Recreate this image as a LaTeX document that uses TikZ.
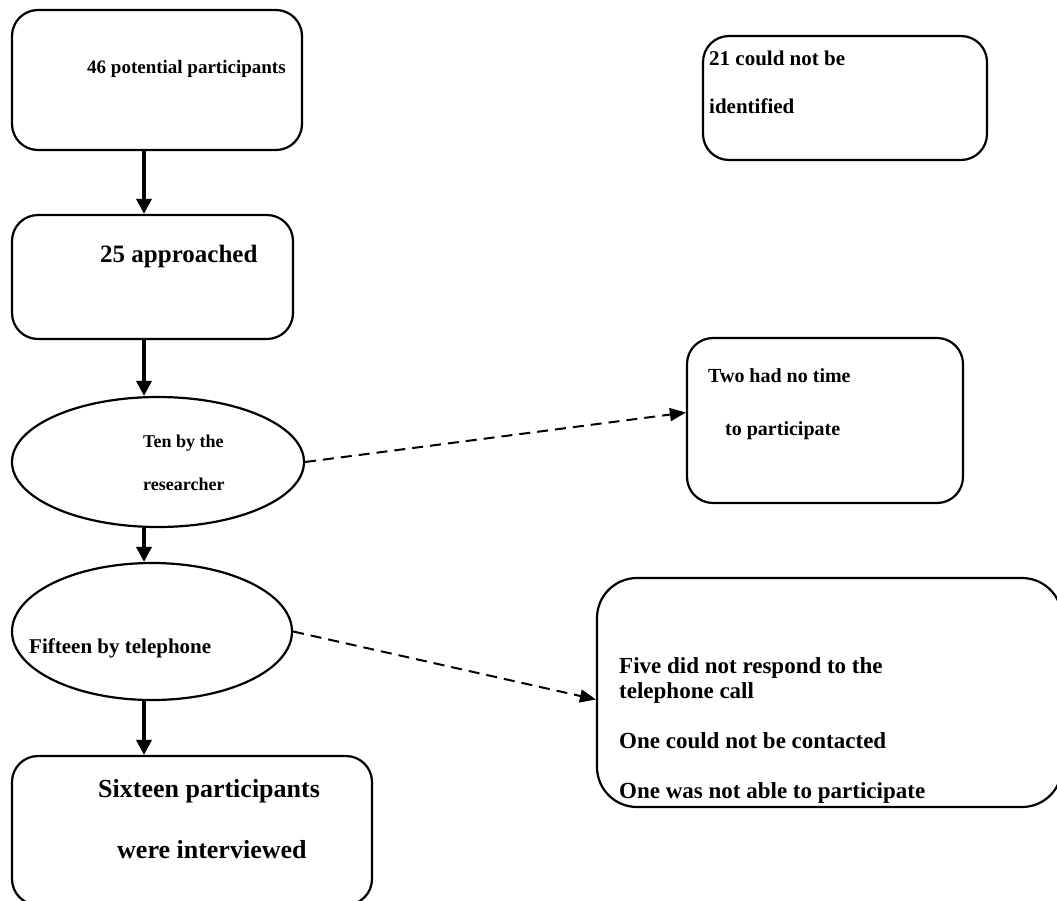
\documentclass[tikz,border=0pt]{standalone}
\usepackage{fontspec}
\setmainfont{Liberation Serif}
\usetikzlibrary{shapes,arrows.meta,positioning,calc}

\begin{document}
\begin{tikzpicture}[
    x=1pt, y=-1pt,
    box/.style={rectangle, draw=black, line width=2.2pt, rounded corners=26pt, inner sep=0pt},
    oval/.style={ellipse, draw=black, line width=2.2pt, inner sep=0pt},
    txt/.style={anchor=base west, inner sep=0pt, font=\fontsize{20}{24}\selectfont\bfseries},
    arrow/.style={-{Triangle[length=15pt,width=15pt]}, line width=3.5pt},
    skip/.style={-{Triangle[length=16pt,width=13pt]}, line width=2pt, dash pattern=on 11pt off 7pt}
]
    \useasboundingbox (0,0) rectangle (1057,900);
    \clip (0,0) rectangle (1057,900);

    % Left column
    \node[box, minimum width=290pt, minimum height=140pt] (potential) at (157,80) {};
    \node[box, minimum width=281pt, minimum height=124pt] (approached) at (152.5,277) {};
    \node[oval, minimum width=292pt, minimum height=130pt] (ten) at (158,462) {};
    \node[oval, minimum width=280pt, minimum height=137pt] (fifteen) at (152,631.5) {};
    \node[box, minimum width=360pt, minimum height=149pt] (sixteen) at (192,830.5) {};

    % Right column
    \node[box, minimum width=284pt, minimum height=124pt] (unknown) at (845,98) {};
    \node[box, minimum width=276pt, minimum height=165pt] (notime) at (825,420.5) {};
    \node[box, rounded corners=40pt, minimum width=465pt, minimum height=229pt] (noreply) at (829.5,692.5) {};

    % Texts
    \node[txt, font=\fontsize{19}{23}\selectfont\bfseries] (lbl46) at (87,73) {46 potential participants};
    \node[txt, font=\fontsize{21}{25}\selectfont\bfseries] (lbl21a) at (709,65) {21 could not be};
    \node[txt, font=\fontsize{21}{25}\selectfont\bfseries] (lbl21b) at (709,113) {identified};
    \node[txt, font=\fontsize{25}{29}\selectfont\bfseries] (lbl25) at (100,262) {25 approached};
    \node[txt, font=\fontsize{18}{22}\selectfont\bfseries] (lblten) at (143,447) {Ten by the};
    \node[txt, font=\fontsize{18}{22}\selectfont\bfseries] (lblres) at (143,490) {researcher};
    \node[txt, font=\fontsize{20}{24}\selectfont\bfseries] (lbltwo) at (708,382) {Two had no time};
    \node[txt, font=\fontsize{20}{24}\selectfont\bfseries] (lblto) at (725,435) {to participate};
    \node[txt, font=\fontsize{21}{25}\selectfont\bfseries] (lblfif) at (29,653) {Fifteen by telephone};
    \node[txt, font=\fontsize{23}{27}\selectfont\bfseries] (lblfive) at (619,673) {Five did not respond to the};
    \node[txt, font=\fontsize{23}{27}\selectfont\bfseries] (lbltel) at (619,698) {telephone call};
    \node[txt, font=\fontsize{23}{27}\selectfont\bfseries] (lblone) at (619,748) {One could not be contacted};
    \node[txt, font=\fontsize{23}{27}\selectfont\bfseries] (lblable) at (619,798) {One was not able to participate};
    \node[txt, font=\fontsize{26}{30}\selectfont\bfseries] (lblsix) at (98,797) {Sixteen participants};
    \node[txt, font=\fontsize{26}{30}\selectfont\bfseries] (lblwere) at (117,858) {were interviewed};

    % Arrows
    \coordinate (spine) at (144,0);
    \draw[arrow] (potential.south -| spine) -- (approached.north -| spine);
    \draw[arrow] (approached.south -| spine) -- (ten.north -| spine);
    \draw[arrow] (ten.south -| spine) -- (fifteen.north -| spine);
    \draw[arrow] (fifteen.south -| spine) -- (sixteen.north -| spine);
    \draw[skip] (ten.east) -- ([yshift=8pt]notime.west);
    \draw[skip] (fifteen.east) -- ([yshift=-7pt]noreply.west);
\end{tikzpicture}
\end{document}
